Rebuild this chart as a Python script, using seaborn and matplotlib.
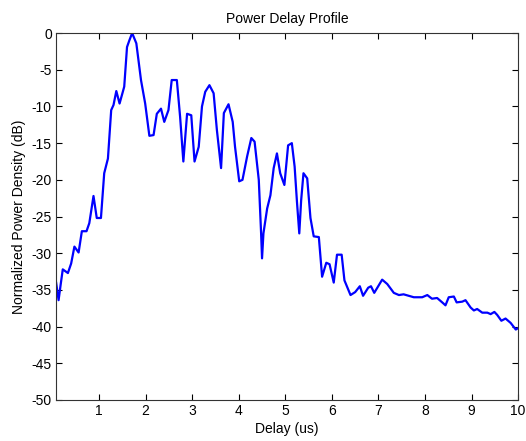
import matplotlib
matplotlib.use("Agg")
import matplotlib.pyplot as plt
import seaborn as sns
import pandas as pd

delay_us = [0.075, 0.13, 0.17, 0.22, 0.33, 0.40, 0.47, 0.56, 0.63, 0.73, 0.79, 0.88, 0.95, 1.04,
            1.11, 1.19, 1.26, 1.31, 1.37, 1.44, 1.51, 1.54, 1.60, 1.65, 1.71, 1.80, 1.90, 1.99,
            2.08, 2.17, 2.24, 2.33, 2.40, 2.49, 2.56, 2.67, 2.74, 2.81, 2.89, 2.98, 3.05, 3.14,
            3.21, 3.28, 3.37, 3.46, 3.53, 3.62, 3.68, 3.78, 3.87, 3.92, 4.01, 4.08, 4.18, 4.27,
            4.34, 4.43, 4.48, 4.50, 4.53, 4.61, 4.68, 4.75, 4.82, 4.89, 4.98, 5.06, 5.14, 5.20,
            5.25, 5.30, 5.34, 5.39, 5.47, 5.54, 5.61, 5.72, 5.79, 5.88, 5.95, 6.04, 6.11, 6.21,
            6.27, 6.40, 6.50, 6.60, 6.67, 6.78, 6.84, 6.91, 7.08, 7.19, 7.33, 7.44, 7.54, 7.65,
            7.76, 7.94, 8.05, 8.15, 8.26, 8.37, 8.44, 8.51, 8.62, 8.68, 8.80, 8.87, 8.98, 9.05,
            9.12, 9.23, 9.34, 9.41, 9.49, 9.55, 9.64, 9.73, 9.84, 9.95, 10.0]
power_db = [-33.9, -36.4, -34.5, -32.2, -32.7, -31.4, -29.1, -29.9, -27.0, -27.0, -25.9, -22.2, -25.2, -25.2,
            -19.1, -17.1, -10.5, -9.8, -7.9, -9.6, -8.0, -7.3, -1.9, -1.0, 0.0, -1.4, -6.4, -9.6,
            -14.0, -13.9, -11.0, -10.3, -12.1, -10.5, -6.4, -6.4, -11.4, -17.5, -11.0, -11.2, -17.5, -15.5,
            -10.0, -8.0, -7.1, -8.2, -13.2, -18.4, -10.9, -9.7, -12.1, -15.5, -20.2, -20.0, -16.8, -14.3,
            -14.8, -20.0, -27.3, -30.7, -27.3, -23.9, -22.1, -18.4, -16.4, -19.1, -20.7, -15.3, -15.0, -18.2,
            -23.0, -27.3, -22.8, -19.1, -19.8, -25.2, -27.7, -27.8, -33.2, -31.3, -31.5, -34.0, -30.2, -30.2,
            -33.7, -35.7, -35.3, -34.5, -35.8, -34.7, -34.5, -35.4, -33.6, -34.2, -35.4, -35.7, -35.6, -35.8,
            -36.0, -36.0, -35.7, -36.2, -36.1, -36.7, -37.1, -36.0, -35.9, -36.7, -36.6, -36.4, -37.4, -37.8,
            -37.6, -38.1, -38.1, -38.3, -38.0, -38.4, -39.2, -38.9, -39.5, -40.4, -40.2]
x_ticks = [1, 2, 3, 4, 5, 6, 7, 8, 9, 10]
y_ticks = [0, -5, -10, -15, -20, -25, -30, -35, -40, -45, -50]

sns.set_theme(style="white")
plt.rcParams['font.family'] = ['Liberation Sans', 'DejaVu Sans']
plt.rcParams['text.color'] = 'black'
plt.rcParams['axes.labelcolor'] = 'black'

df = pd.DataFrame({"delay": delay_us, "power": power_db})

fig = plt.figure(figsize=(5.26, 4.41), dpi=100)
ax = fig.add_axes([0.1065, 0.093, 0.8785, 0.832])
sns.lineplot(data=df, x="delay", y="power", ax=ax, color="#0000ff", linewidth=1.6,
             sort=False, estimator=None)

ax.set_xlim(0.075, 10)
ax.set_ylim(-50, 0)
ax.set_xticks(x_ticks)
ax.set_xticklabels([str(t) for t in x_ticks])
ax.set_yticks(y_ticks)
ax.set_yticklabels([str(t) for t in y_ticks])
ax.tick_params(direction="in", length=4, width=0.8, colors="black", labelsize=10,
               top=True, right=True, bottom=True, left=True, pad=3)
for s in ax.spines.values():
    s.set_visible(True)
    s.set_color("#333333")
    s.set_linewidth(0.8)
ax.set_xlabel("Delay (us)", fontsize=10, labelpad=3, color="black")
ax.set_ylabel("Normalized Power Density (dB)", fontsize=10, labelpad=4, color="black")
ax.set_title("Power Delay Profile", fontsize=10, pad=7, color="black")
ax.grid(False)

fig.savefig("out.png", dpi=100)
